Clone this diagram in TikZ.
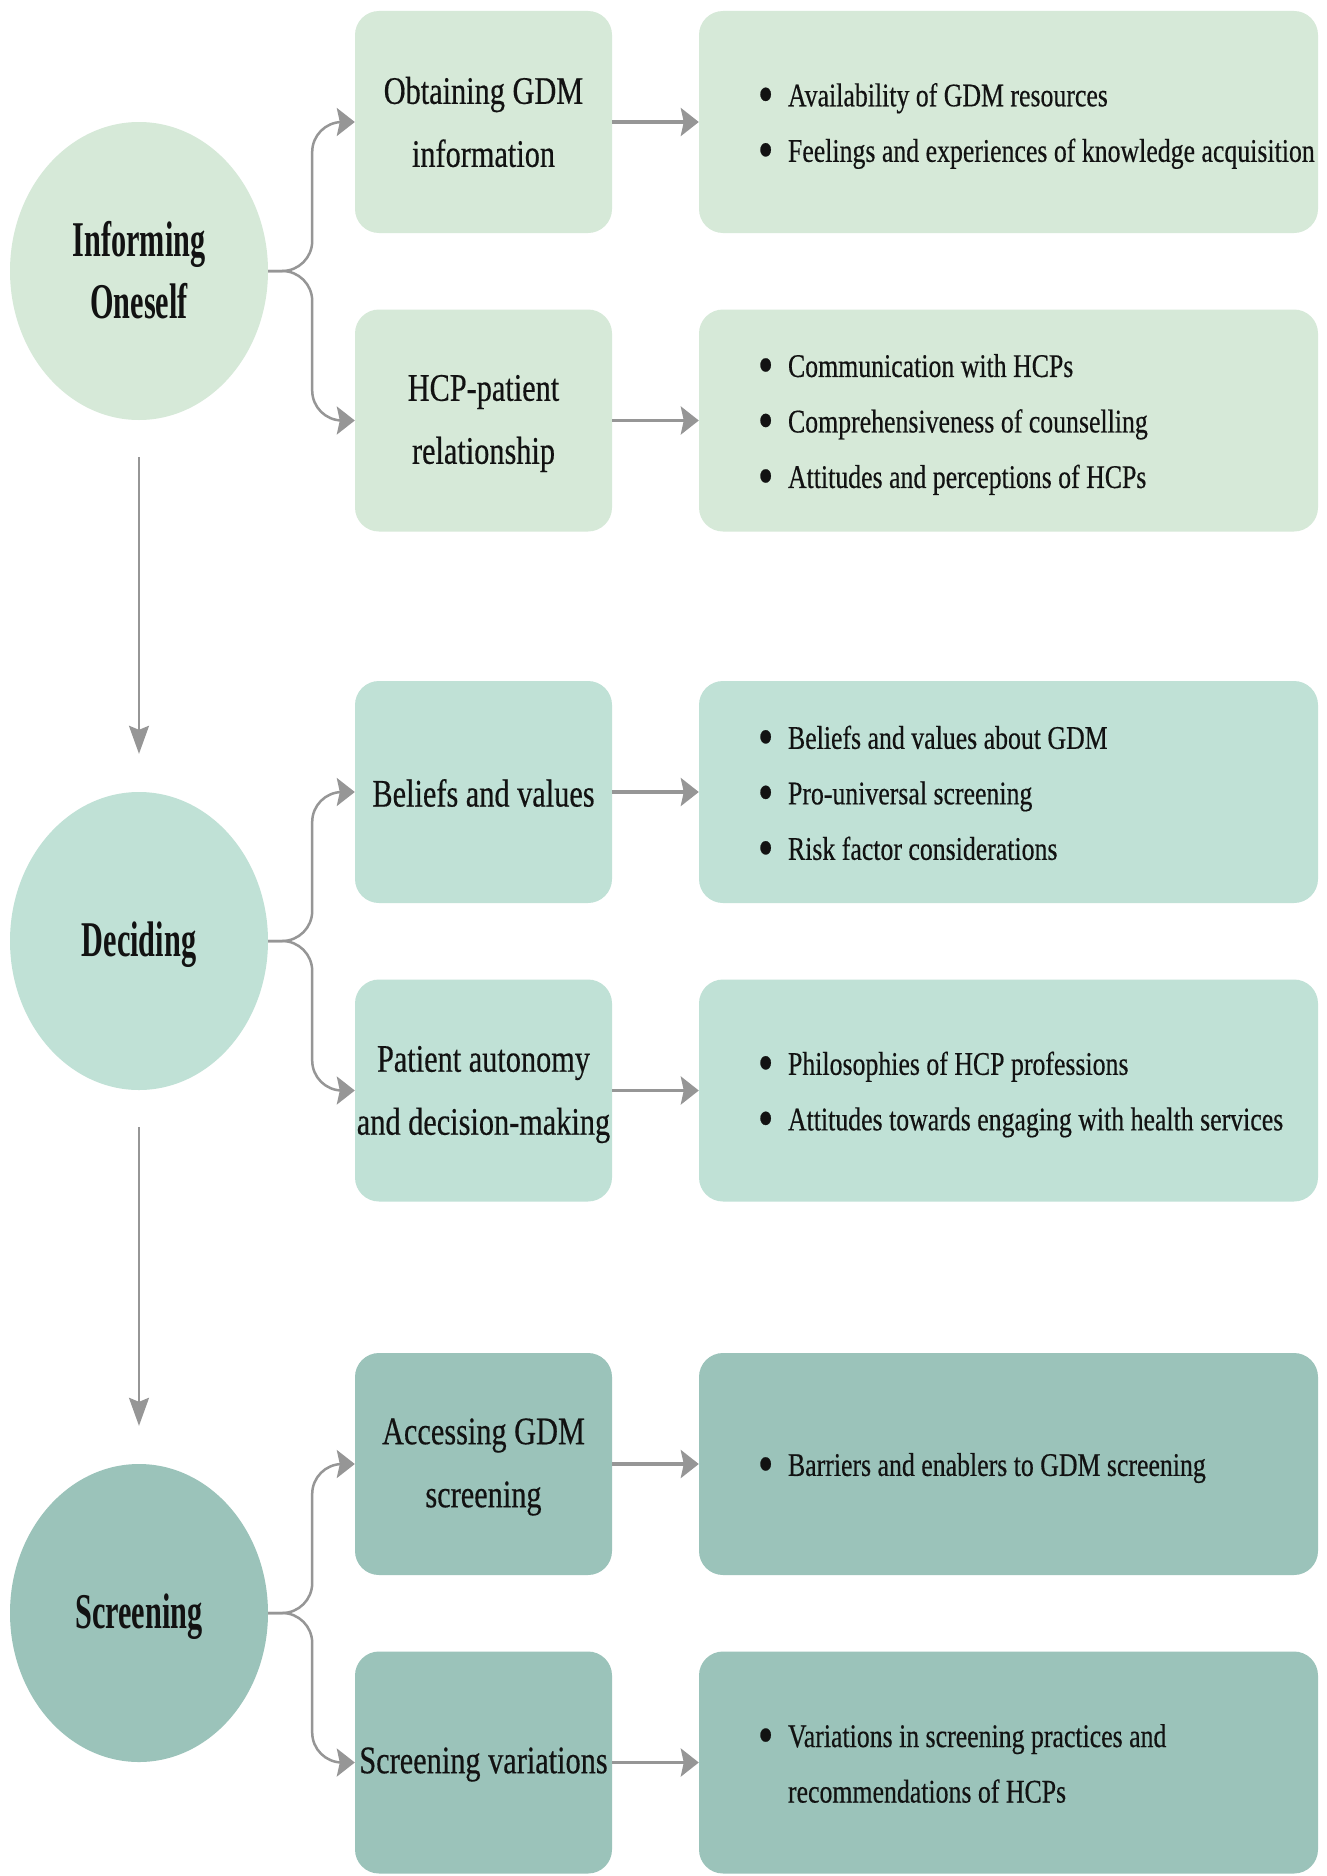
\documentclass[tikz,border=0pt]{standalone}
\usepackage{fontspec}
\usepackage{graphicx}
\setmainfont{Liberation Serif}
% condensed serif faces for the three text roles
\newfontfamily\themefont{Liberation Serif}[FakeStretch=0.777, FakeBold=0.4]
\newfontfamily\listfont{Liberation Serif}[FakeStretch=0.782, FakeBold=0.4]
\newfontfamily\stagefont{Liberation Serif}[FakeStretch=0.605]
\usetikzlibrary{shapes.geometric,arrows.meta}

\definecolor{informfill}{RGB}{214,233,216}
\definecolor{decidefill}{RGB}{192,225,214}
\definecolor{screenfill}{RGB}{155,195,186}
\definecolor{linkgray}{RGB}{150,150,150}
\definecolor{inkblack}{RGB}{18,18,18}

% bulleted line and its hanging continuation
\newcommand{\bdot}{\raisebox{-0.2em}{\scalebox{1.7}{\textbullet}}}
\newcommand{\bitem}[1]{\makebox[30pt][l]{\bdot}#1}
\newcommand{\bcont}[1]{\hspace*{30pt}#1}

\begin{document}
\begin{tikzpicture}[x=1pt,y=-1pt,
  stage/.style={ellipse, minimum width=258pt, minimum height=298pt, inner sep=0pt},
  stagetext/.style={inner sep=0pt, align=center, text=inkblack,
    font=\stagefont\bfseries\fontsize{50}{62}\selectfont},
  theme/.style={rectangle, rounded corners=24pt, minimum width=257pt, minimum height=222pt,
    inner sep=0pt},
  themetext/.style={inner sep=0pt, align=center, text=inkblack,
    font=\themefont\fontsize{39}{63}\selectfont},
  detail/.style={rectangle, rounded corners=24pt, minimum width=619pt, minimum height=222pt,
    inner sep=0pt},
  listtext/.style={anchor=west, inner sep=0pt, align=left, text=inkblack,
    font=\listfont\fontsize{33}{55.5}\selectfont},
  branch/.style={draw=linkgray, line width=2.5pt, rounded corners=30pt,
    -{Stealth[length=18pt,width=28pt,inset=3pt]}},
  feed/.style={draw=linkgray, line width=3.5pt, -{Stealth[length=18pt,width=28pt,inset=3pt]}},
  flow/.style={draw=linkgray, line width=2pt, -{Stealth[length=28pt,width=20pt,inset=4pt]}},
]
\fill[white] (0,0) rectangle (1326,1876);
\path[use as bounding box] (0,0) rectangle (1326,1876);

% ---------- Informing oneself ----------
\node[stage, fill=informfill] (c1) at (139,271) {};
\node[theme, fill=informfill] (a1) at (483.5,122) {};
\node[theme, fill=informfill] (a2) at (483.5,420.5) {};
\node[detail, fill=informfill] (b1) at (1008.5,122) {};
\node[detail, fill=informfill] (b2) at (1008.5,420.5) {};
\node[stagetext] (s1) at ([yshift=1pt]c1.center) {Informing\\Oneself};
\node[themetext] (t1) at (a1.center) {Obtaining GDM\\information};
\node[themetext] (t2) at ([yshift=-3pt]a2.center) {HCP-patient\\relationship};
\node[listtext] (l1) at ([xshift=59pt,yshift=-4pt]b1.west)
  {\bitem{Availability of GDM resources}\\\bitem{Feelings and experiences of knowledge acquisition}};
\node[listtext] (l2) at ([xshift=59pt,yshift=-4pt]b2.west)
  {\bitem{Communication with HCPs}\\\bitem{Comprehensiveness of counselling}\\\bitem{Attitudes and perceptions of HCPs}};

% ---------- Deciding ----------
\node[stage, fill=decidefill] (c2) at (139,941) {};
\node[theme, fill=decidefill] (a3) at (483.5,792) {};
\node[theme, fill=decidefill] (a4) at (483.5,1090.5) {};
\node[detail, fill=decidefill] (b3) at (1008.5,792) {};
\node[detail, fill=decidefill] (b4) at (1008.5,1090.5) {};
\node[stagetext] (s2) at ([yshift=-4pt]c2.center) {Deciding};
\node[themetext] (t3) at ([yshift=-1pt]a3.center) {Beliefs and values};
\node[themetext] (t4) at ([yshift=-4pt]a4.center) {Patient autonomy\\and decision-making};
\node[listtext] (l3) at ([xshift=59pt,yshift=-4pt]b3.west)
  {\bitem{Beliefs and values about GDM}\\\bitem{Pro-universal screening}\\\bitem{Risk factor considerations}};
\node[listtext] (l4) at ([xshift=59pt,yshift=-4pt]b4.west)
  {\bitem{Philosophies of HCP professions}\\\bitem{Attitudes towards engaging with health services}};

% ---------- Screening ----------
\node[stage, fill=screenfill] (c3) at (139,1613) {};
\node[theme, fill=screenfill] (a5) at (483.5,1464) {};
\node[theme, fill=screenfill] (a6) at (483.5,1762.5) {};
\node[detail, fill=screenfill] (b5) at (1008.5,1464) {};
\node[detail, fill=screenfill] (b6) at (1008.5,1762.5) {};
\node[stagetext] (s3) at ([yshift=-4pt]c3.center) {Screening};
\node[themetext] (t5) at ([yshift=-3pt]a5.center) {Accessing GDM\\screening};
\node[themetext] (t6) at ([yshift=-2pt]a6.center) {Screening variations};
\node[listtext] (l5) at ([xshift=59pt,yshift=-4pt]b5.west)
  {\bitem{Barriers and enablers to GDM screening}};
\node[listtext] (l6) at ([xshift=59pt,yshift=-1pt]b6.west)
  {\bitem{Variations in screening practices and}\\\bcont{recommendations of HCPs}};

% ---------- connectors ----------
\foreach \c/\u/\d in {c1/a1/a2, c2/a3/a4, c3/a5/a6}{
  \draw[branch] (\c.east) -- ++(44,0) |- (\u.west);
  \draw[branch] (\c.east) -- ++(44,0) |- (\d.west);
}
\foreach \a/\b in {a1/b1, a2/b2, a3/b3, a4/b4, a5/b5, a6/b6}{
  \draw[feed] (\a.east) -- (\b.west);
}
\draw[flow] ([yshift=-37pt]c1.south) -- ([yshift=38pt]c2.north);
\draw[flow] ([yshift=-37pt]c2.south) -- ([yshift=38pt]c3.north);
\end{tikzpicture}
\end{document}
